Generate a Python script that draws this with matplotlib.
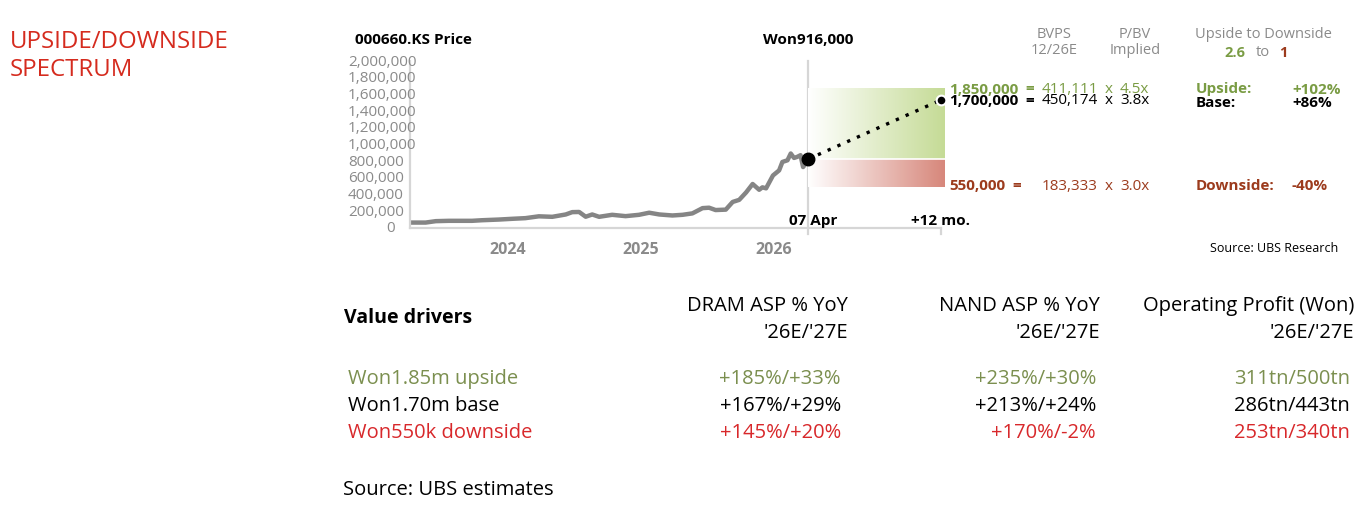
import numpy as np
import matplotlib
matplotlib.use('Agg')
import matplotlib.pyplot as plt
import matplotlib.dates as mdates

plt.rcParams['font.family'] = ['Open Sans', 'DejaVu Sans']

# price history (Won)
price_dates = ['2023-04-07', '2023-05-19', '2023-06-16', '2023-07-22', '2023-09-24',
               '2023-10-21', '2023-12-06', '2024-01-12', '2024-02-18', '2024-03-26',
               '2024-05-02', '2024-06-08', '2024-06-26', '2024-07-15', '2024-08-02',
               '2024-08-20', '2024-09-08', '2024-10-14', '2024-11-20', '2024-12-27',
               '2025-01-24', '2025-02-21', '2025-03-29', '2025-04-26', '2025-05-23',
               '2025-06-20', '2025-07-08', '2025-07-26', '2025-08-23', '2025-09-11',
               '2025-09-29', '2025-10-18', '2025-11-05', '2025-11-23', '2025-12-02',
               '2025-12-12', '2025-12-31', '2026-01-17', '2026-01-26', '2026-02-09',
               '2026-02-18', '2026-02-27', '2026-03-08', '2026-03-17', '2026-03-24',
               '2026-04-07']
price_vals = [65000, 65000, 82000, 86000, 86000,
              93000, 101000, 110000, 118000, 140000,
              134000, 162000, 190000, 192000, 135000,
              162000, 134000, 158000, 142000, 158000,
              183000, 162000, 150000, 158000, 175000,
              238000, 243000, 215000, 220000, 312000,
              337000, 426000, 527000, 458000, 487000,
              475000, 629000, 690000, 791000, 811000,
              892000, 839000, 852000, 872000, 730000,
              811000]

current_price = 916000
targets = [1850000, 1700000, 550000]
bvps = ['411,111', '450,174', '183,333']
pbv = ['4.5x', '3.8x', '3.0x']
case_names = ['Upside:', 'Base:', 'Downside:']
case_moves = ['+102%', '+86%', '-40%']

year_ticks = ['2024', '2025', '2026']

drivers = ['Won1.85m upside', 'Won1.70m base', 'Won550k downside']
dram = ['+185%/+33%', '+167%/+29%', '+145%/+20%']
nand = ['+235%/+30%', '+213%/+24%', '+170%/-2%']
op_profit = ['311tn/500tn', '286tn/443tn', '253tn/340tn']

W, H = 1370, 506
RED = '#d52b1e'
GREEN = '#7a9c44'
BROWN = '#9c3b1d'
GRAY = '#8a8a8a'
LINE = '#d6d6d6'
case_colors = [GREEN, 'black', BROWN]
row_colors = ['#7b8f4f', 'black', '#d8282b']

fig = plt.figure(figsize=(W / 100, H / 100), dpi=100)


def put(x, y, s, **kw):
    fig.text(x / W, 1 - y / H, s, **kw)


now = np.datetime64('2026-04-07')
plus12 = np.datetime64('2027-04-07')
box_end = np.datetime64('2027-04-19')
x_start = np.datetime64('2023-04-06')

ax = fig.add_axes([410 / W, 1 - 229 / H, 535 / W, 167 / H])
ax.plot(np.array(price_dates, dtype='datetime64[D]'), price_vals,
        color='#858585', lw=3.2, solid_joinstyle='round', solid_capstyle='round')
ax.set_ylim(0, 2000000)
ax.set_yticks([])
for v in range(0, 2000001, 200000):
    if v == 0:
        ax.text(-0.037, v, '0', transform=ax.get_yaxis_transform(), ha='center',
                va='center', color=GRAY, fontsize=11)
    else:
        ax.text(-0.116, v, f'{v:,}', transform=ax.get_yaxis_transform(), ha='left',
                va='center', color=GRAY, fontsize=11)

ax.set_xticks([np.datetime64(y + '-01-01') for y in year_ticks])
ax.set_xticklabels(year_ticks, fontweight='bold', color=GRAY, fontsize=11.5)
ax.tick_params(axis='x', length=0, pad=9)
for s in ['top', 'right']:
    ax.spines[s].set_visible(False)
for s in ['left', 'bottom']:
    ax.spines[s].set_color(LINE)
    ax.spines[s].set_linewidth(1.6)
ax.spines['bottom'].set_bounds(mdates.date2num(x_start), mdates.date2num(plus12))

ax.axvline(now, ymin=-0.036, ymax=1, color=LINE, lw=1.6, clip_on=False)
ax.plot([plus12, plus12], [0, -0.036], color=LINE, lw=1.6, clip_on=False,
        transform=ax.get_xaxis_transform())
ax.text(now + np.timedelta64(13, 'D'), 0.045, '07 Apr', transform=ax.get_xaxis_transform(),
        ha='center', va='center', fontweight='bold', fontsize=11)
ax.text(plus12, 0.045, '+12 mo.', transform=ax.get_xaxis_transform(), ha='center',
        va='center', fontweight='bold', fontsize=11)

# scenario panel on its own scale
ax2 = ax.twinx()
ax2.axis('off')
g = np.linspace(0, 1, 256)[None, :, None]
white = np.ones(3)
green_end = np.array(matplotlib.colors.to_rgb('#c5db96'))
red_end = np.array(matplotlib.colors.to_rgb('#d7877b'))
ext_x = [mdates.date2num(now), mdates.date2num(box_end)]
ax2.imshow(white * (1 - g) + green_end * g, extent=ext_x + [current_price, targets[0]],
           aspect='auto', interpolation='bilinear')
ax2.imshow(white * (1 - g) + red_end * g, extent=ext_x + [targets[2], current_price],
           aspect='auto', interpolation='bilinear')
ax2.plot(ext_x, [current_price, current_price], color='white', lw=1.2)
ax2.plot([now, plus12], [current_price, targets[1]], color='black', lw=2.4,
         ls=(0, (1, 2.2)))
ax2.plot([now], [current_price], 'o', color='black', ms=9)
ax2.plot([plus12], [targets[1]], 'o', color='black', ms=7, mec='white', mew=1.5)
ax2.set_ylim(0, 2220000)
ax.set_xlim(x_start, box_end)

# headings
put(10, 48, 'UPSIDE/DOWNSIDE', color=RED, fontsize=17.3, va='baseline')
put(10, 76, 'SPECTRUM', color=RED, fontsize=17.3, va='baseline')
put(355, 40, '000660.KS Price', fontweight='bold', fontsize=11, va='center')
put(808, 40, f'Won{current_price:,}', fontweight='bold', fontsize=11, va='center',
    ha='center')

put(1054, 34, 'BVPS', color=GRAY, fontsize=10.5, ha='center', va='center')
put(1054, 51, '12/26E', color=GRAY, fontsize=10.5, ha='center', va='center')
put(1135, 34, 'P/BV', color=GRAY, fontsize=10.5, ha='center', va='center')
put(1135, 51, 'Implied', color=GRAY, fontsize=10.5, ha='center', va='center')
put(1263, 34, 'Upside to Downside', color=GRAY, fontsize=10.5, ha='center', va='center')
put(1235, 53, '2.6', color=GREEN, fontsize=10.5, fontweight='bold', ha='center', va='center')
put(1263, 53, 'to', color=GRAY, fontsize=10.5, ha='center', va='center')
put(1283, 53, '1', color=BROWN, fontsize=10.5, fontweight='bold', ha='center', va='center')

row_y = [89.5, 101, 186]
case_y = [89.5, 103, 186]
eq_x = [1030, 1030, 1017]
for i in range(3):
    c = case_colors[i]
    put(949, row_y[i], f'{targets[i]:,}', color=c, fontsize=11, fontweight='bold', va='center')
    put(eq_x[i], row_y[i], '=', color=c, fontsize=11, fontweight='bold', ha='center', va='center')
    put(1042, row_y[i], bvps[i], color=c, fontsize=11, va='center')
    put(1109, row_y[i], 'x', color=c, fontsize=11, ha='center', va='center')
    put(1120, row_y[i], pbv[i], color=c, fontsize=11, va='center')
    put(1196, case_y[i], case_names[i], color=c, fontsize=11, fontweight='bold', va='center')
    put(1292, case_y[i], case_moves[i], color=c, fontsize=11, fontweight='bold', va='center')

put(1338, 249, 'Source: UBS Research', fontsize=9, ha='right', va='center')

# value drivers table
put(344, 318, 'Value drivers', fontsize=14, fontweight='bold', va='center')
heads = ['DRAM ASP % YoY', 'NAND ASP % YoY', 'Operating Profit (Won)']
head_x = [848, 1100, 1354]
for hx, h in zip(head_x, heads):
    put(hx, 306, h, fontsize=14.5, ha='right', va='center')
    put(hx, 333, "'26E/'27E", fontsize=14.5, ha='right', va='center')

tbl_y = [379, 406, 433]
for i in range(3):
    c = row_colors[i]
    put(348, tbl_y[i], drivers[i], color=c, fontsize=14.5, va='center')
    put(841, tbl_y[i], dram[i], color=c, fontsize=14.5, ha='right', va='center')
    put(1096, tbl_y[i], nand[i], color=c, fontsize=14.5, ha='right', va='center')
    put(1350, tbl_y[i], op_profit[i], color=c, fontsize=14.5, ha='right', va='center')

put(343, 490, 'Source: UBS estimates', fontsize=14.5, va='center')

fig.savefig('out.png', dpi=100)
